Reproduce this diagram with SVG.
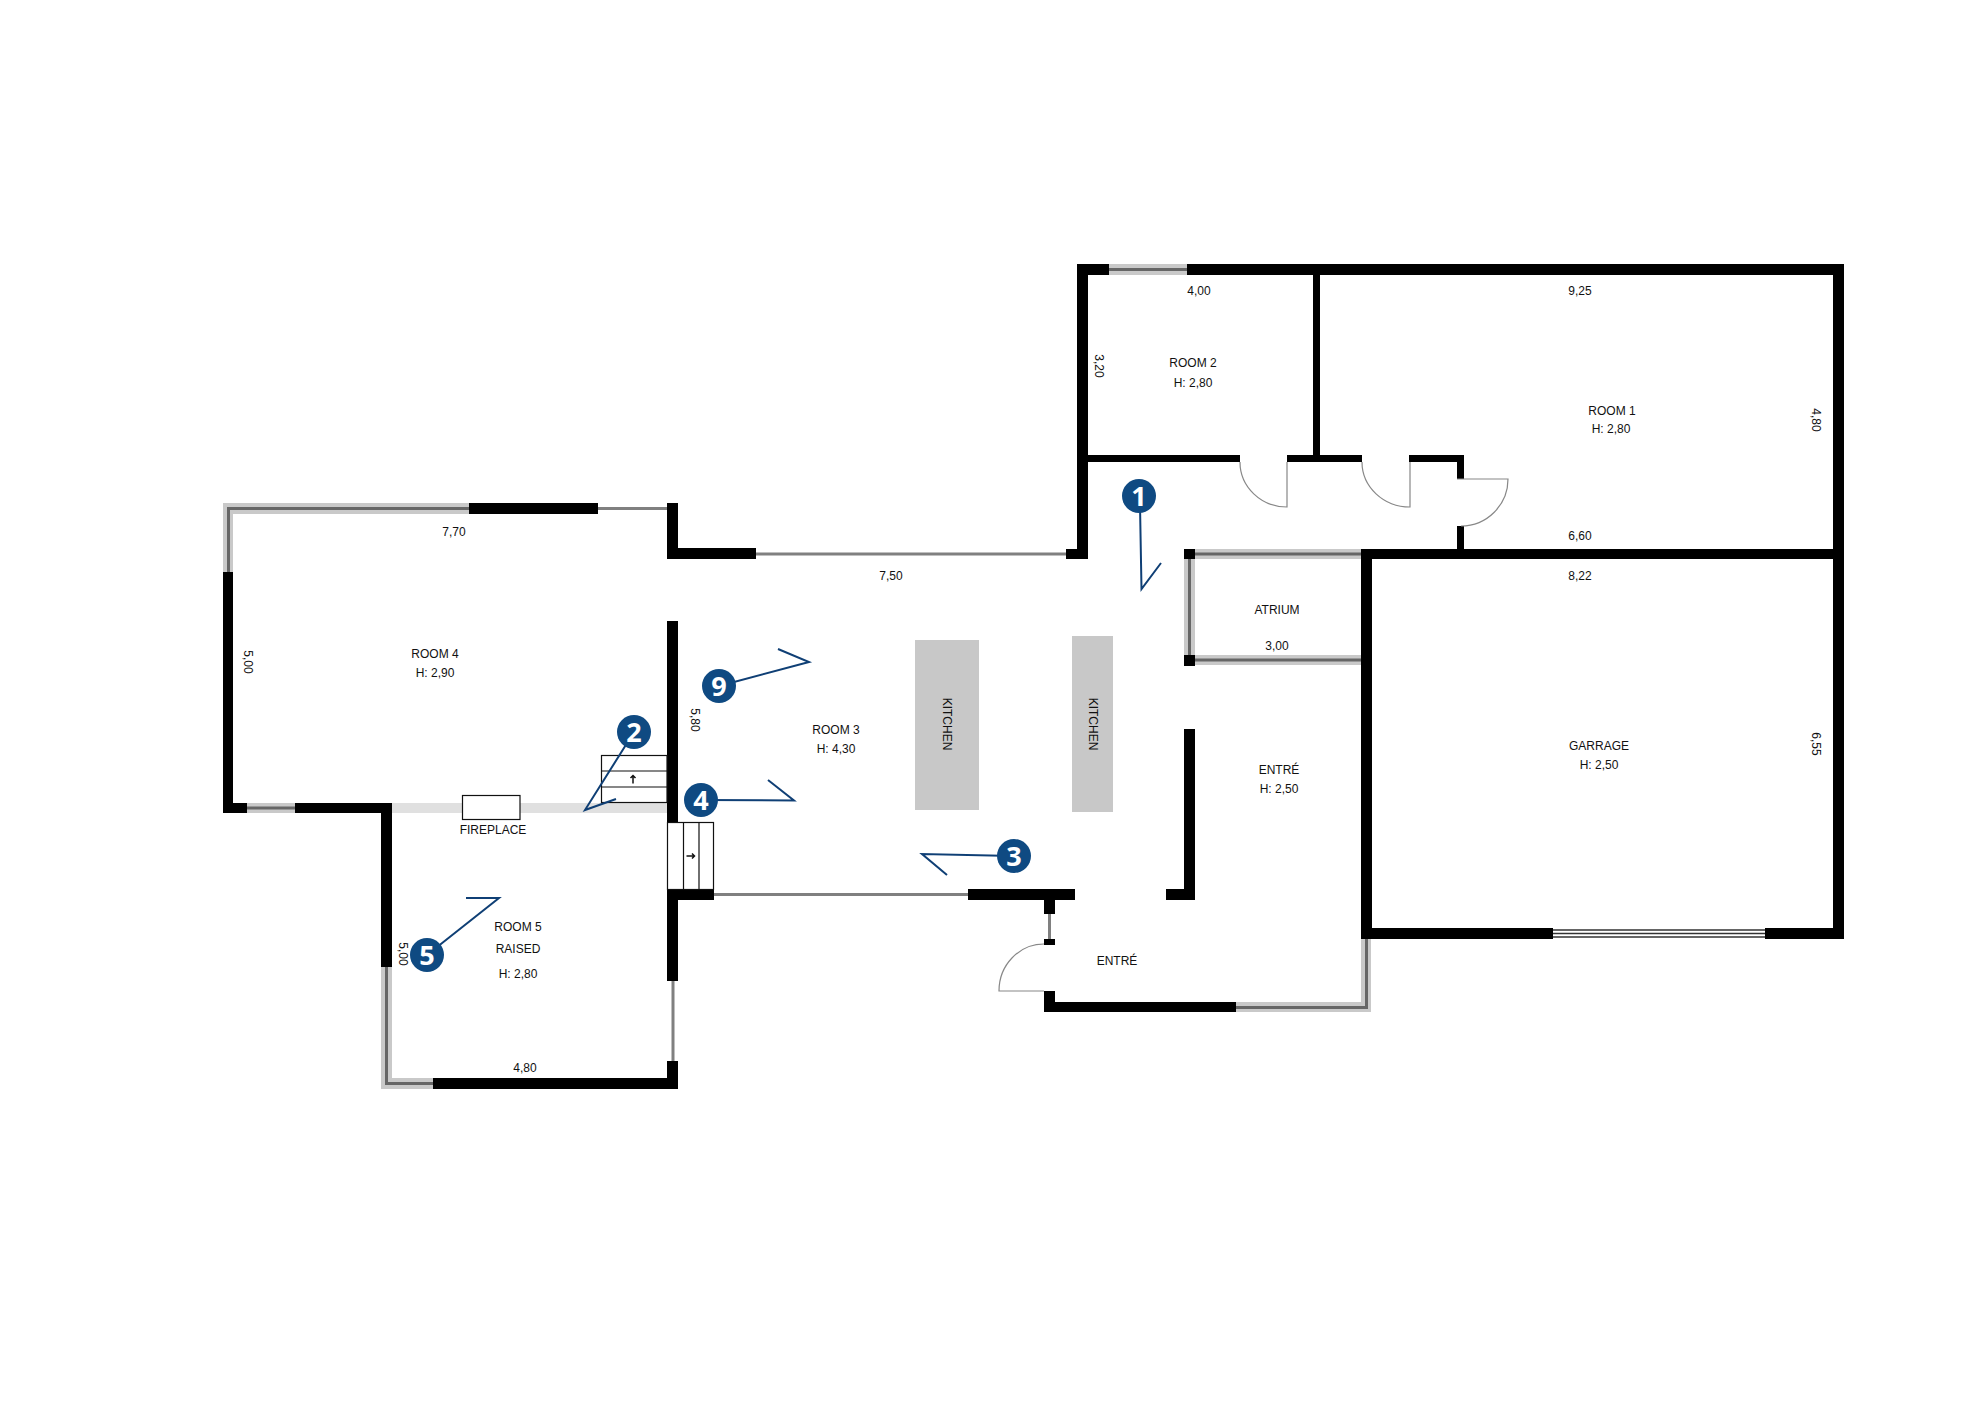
<svg xmlns="http://www.w3.org/2000/svg" width="1984" height="1403" viewBox="0 0 1984 1403">
<style>
.w{fill:#000}
.b{fill:#c9c9c9}
.d{fill:none;stroke:#666;stroke-width:3}
.g{fill:none;stroke:#808080;stroke-width:3}
.door{fill:none;stroke:#888;stroke-width:1.2}
.st{fill:#fff;stroke:#111;stroke-width:1.2}
.ar{fill:none;stroke:#111;stroke-width:1.5}
.k{fill:#c8c8c8}
text{font-family:"Liberation Sans",Arial,sans-serif;font-size:12px;fill:#111;text-anchor:middle}
.lead{fill:none;stroke:#0f3f75;stroke-width:2}
.dot{fill:#0f4a82}
text.num{font-family:"Open Sans","Noto Sans",sans-serif;font-size:27px;font-weight:700;fill:#fff}
</style>
<rect width="1984" height="1403" fill="#fff"/>
<g id="kitchens">
<rect class="k" x="915" y="640" width="64" height="170"/>
<rect class="k" x="1072" y="636" width="41" height="176"/>
</g>
<g id="windows">
<path class="b" d="M223 503H469V514H233V572H223Z"/>
<path class="d" d="M228.500 572V508.500H469"/>
<rect class="b" x="247" y="803" width="48" height="10"/>
<path class="d" d="M247 808H295"/>
<path class="b" d="M381 967H392V1078H433V1089H381Z"/>
<path class="d" d="M386.500 967V1083.500H433"/>
<rect class="b" x="1109" y="264" width="78" height="11"/>
<path class="d" d="M1109 269.500H1187"/>
<rect class="b" x="1195" y="549" width="166" height="10"/>
<path class="d" d="M1195 554H1361"/>
<rect class="b" x="1184" y="559" width="11" height="96"/>
<path class="d" d="M1189.500 559V655"/>
<rect class="b" x="1195" y="655" width="166" height="10"/>
<path class="d" d="M1195 660H1361"/>
<path class="b" d="M1236 1002H1361V939H1371V1012H1236Z"/>
<path class="d" d="M1236 1007.500H1366.500V939"/>
<rect x="392" y="803" width="275" height="10" fill="#e0e0e0"/>
<path class="g" d="M598 508.500H667M756 554H1066M714 894.500H968M673 981V1061M1049.500 914V939"/>
<path d="M1553 930H1765M1553 933.500H1765M1553 937H1765" fill="none" stroke="#333" stroke-width="1.400"/>
</g>
<g id="walls">
<rect class="w" x="469" y="503" width="129" height="11"/>
<rect class="w" x="667" y="503" width="11" height="56"/>
<rect class="w" x="667" y="548" width="89" height="11"/>
<rect class="w" x="223" y="572" width="10" height="241"/>
<rect class="w" x="223" y="803" width="24" height="10"/>
<rect class="w" x="295" y="803" width="97" height="10"/>
<rect class="w" x="381" y="803" width="11" height="164"/>
<rect class="w" x="433" y="1078" width="245" height="11"/>
<rect class="w" x="667" y="621" width="11" height="201"/>
<rect class="w" x="667" y="889" width="47" height="11"/>
<rect class="w" x="667" y="889" width="11" height="92"/>
<rect class="w" x="667" y="1061" width="11" height="28"/>
<rect class="w" x="968" y="889" width="107" height="11"/>
<rect class="w" x="1044" y="900" width="11" height="14"/>
<rect class="w" x="1044" y="939" width="11" height="6"/>
<rect class="w" x="1044" y="991" width="11" height="21"/>
<rect class="w" x="1044" y="1002" width="192" height="10"/>
<rect class="w" x="1184" y="729" width="11" height="171"/>
<rect class="w" x="1166" y="889" width="29" height="11"/>
<rect class="w" x="1361" y="549" width="11" height="390"/>
<rect class="w" x="1361" y="549" width="483" height="10"/>
<rect class="w" x="1361" y="928" width="192" height="11"/>
<rect class="w" x="1765" y="928" width="79" height="11"/>
<rect class="w" x="1833" y="264" width="11" height="675"/>
<rect class="w" x="1077" y="264" width="32" height="11"/>
<rect class="w" x="1187" y="264" width="657" height="11"/>
<rect class="w" x="1077" y="264" width="11" height="295"/>
<rect class="w" x="1066" y="549" width="22" height="10"/>
<rect class="w" x="1313" y="275" width="7" height="181"/>
<rect class="w" x="1088" y="455" width="152" height="7"/>
<rect class="w" x="1287" y="455" width="75" height="7"/>
<rect class="w" x="1409" y="455" width="55" height="7"/>
<rect class="w" x="1457" y="455" width="7" height="24"/>
<rect class="w" x="1457" y="526" width="7" height="23"/>
<rect class="w" x="1184" y="549" width="11" height="10"/>
<rect class="w" x="1184" y="655" width="11" height="11"/>
</g>
<g id="doors">
<path class="door" d="M1240 462A47 45 0 0 0 1287 507V462"/>
<path class="door" d="M1362 462A48 45 0 0 0 1410 507V462"/>
<path class="door" d="M1457 479H1508A47 47 0 0 1 1461 526"/>
<path class="door" d="M1044 944A45 47 0 0 0 999 991H1044"/>
</g>
<g id="stairs">
<rect class="st" x="601.500" y="755.500" width="65.500" height="47"/>
<path class="st" d="M601.500 771H667M601.500 787H667"/>
<path class="ar" d="M633 783.500V775.500M630.500 778L633 775.500L635.500 778"/>
<rect class="st" x="667.500" y="822.500" width="46" height="67"/>
<path class="st" d="M683.500 822.500V889M699 822.500V889"/>
<path class="ar" d="M686.500 856H694.500M692 853.500L694.500 856L692 858.500"/>
</g>
<g id="fireplace">
<rect class="st" x="462.500" y="795.500" width="57.500" height="24"/>
<text x="493" y="834">FIREPLACE</text>
</g>
<g id="labels">
<text x="435" y="658">ROOM 4</text>
<text x="435" y="677">H: 2,90</text>
<text x="454" y="536">7,70</text>
<text x="891" y="580">7,50</text>
<text transform="translate(248 662) rotate(90)" y="4.300">5,00</text>
<text transform="translate(695 720) rotate(90)" y="4.300">5,80</text>
<text x="518" y="931">ROOM 5</text>
<text x="518" y="953">RAISED</text>
<text x="518" y="978">H: 2,80</text>
<text transform="translate(403 954) rotate(90)" y="4.300">5,00</text>
<text x="525" y="1072">4,80</text>
<text x="1117" y="965">ENTRÉ</text>
<text x="1193" y="367">ROOM 2</text>
<text x="1193" y="387">H: 2,80</text>
<text x="1199" y="295">4,00</text>
<text transform="translate(1099 366) rotate(90)" y="4.300">3,20</text>
<text x="1277" y="614">ATRIUM</text>
<text x="1277" y="650">3,00</text>
<text x="836" y="734">ROOM 3</text>
<text x="836" y="753">H: 4,30</text>
<text transform="translate(947 724) rotate(90)" y="4.300">KITCHEN</text>
<text transform="translate(1093 724) rotate(90)" y="4.300">KITCHEN</text>
<text x="1279" y="774">ENTRÉ</text>
<text x="1279" y="793">H: 2,50</text>
<text x="1612" y="415">ROOM 1</text>
<text x="1611" y="433">H: 2,80</text>
<text x="1580" y="295">9,25</text>
<text x="1580" y="540">6,60</text>
<text x="1580" y="580">8,22</text>
<text transform="translate(1816 420) rotate(90)" y="4.300">4,80</text>
<text x="1599" y="750">GARRAGE</text>
<text x="1599" y="769">H: 2,50</text>
<text transform="translate(1816 744) rotate(90)" y="4.300">6,55</text>
</g>
<g id="connectors">
<path class="lead" d="M1140 505L1141.500 589L1161 563"/>
<path class="lead" d="M634 732L585 810L616 799"/>
<path class="lead" d="M1014 856L922 854L947 875"/>
<path class="lead" d="M701 800L794 800.500L768 780"/>
<path class="lead" d="M427 955L499 898H466"/>
<path class="lead" d="M719 686L809 662L778 649"/>
</g>
<g id="marker-1"><circle class="dot" cx="1139" cy="496" r="17"/><text class="num" x="1139" y="506">1</text></g>
<g id="marker-2"><circle class="dot" cx="634" cy="732" r="17"/><text class="num" x="634" y="742">2</text></g>
<g id="marker-3"><circle class="dot" cx="1014" cy="856" r="17"/><text class="num" x="1014" y="866">3</text></g>
<g id="marker-4"><circle class="dot" cx="701" cy="800" r="17"/><text class="num" x="701" y="810">4</text></g>
<g id="marker-5"><circle class="dot" cx="427" cy="955" r="17"/><text class="num" x="427" y="965">5</text></g>
<g id="marker-9"><circle class="dot" cx="719" cy="686" r="17"/><text class="num" x="719" y="696">9</text></g>
</svg>
